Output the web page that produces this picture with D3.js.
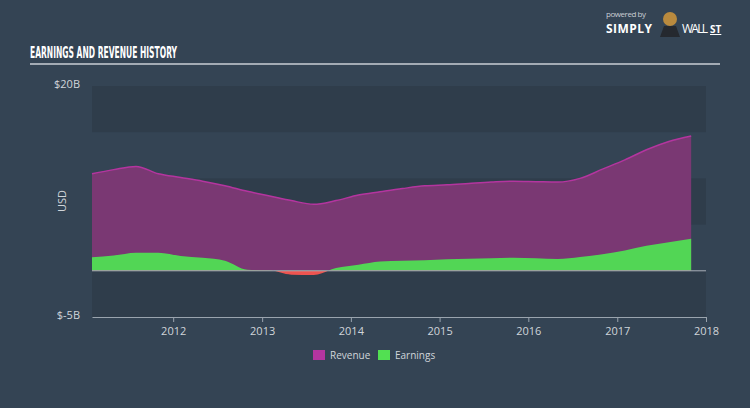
<!DOCTYPE html>
<html>
<head>
<meta charset="utf-8">
<script src="https://cdn.jsdelivr.net/npm/d3@7"></script>
<style>
  html, body { margin: 0; padding: 0; background: #344454; }
  svg { display: block; font-family: "Open Sans", "DejaVu Sans", sans-serif; }
</style>
</head>
<body>
<div id="chart"></div>
<script>
// quarterly points, values in billions USD
const dates = [
  "2011-02-01", "2011-05-01", "2011-08-01", "2011-11-01",
  "2012-02-01", "2012-05-01", "2012-08-01", "2012-11-01",
  "2013-02-01", "2013-05-01", "2013-08-01", "2013-11-01",
  "2014-02-01", "2014-05-01", "2014-08-01", "2014-11-01",
  "2015-02-01", "2015-05-01", "2015-08-01", "2015-11-01",
  "2016-02-01", "2016-05-01", "2016-08-01", "2016-11-01",
  "2017-02-01", "2017-05-01", "2017-08-01", "2017-11-01"
];
const revenue = [
  10.5, 10.95, 11.3, 10.5,
  10.1, 9.7, 9.2, 8.6,
  8.1, 7.6, 7.2, 7.6,
  8.2, 8.55, 8.9, 9.2,
  9.3, 9.45, 9.6, 9.7,
  9.65, 9.6, 10.0, 11.0,
  12.0, 13.1, 14.0, 14.6
];
const earnings = [
  1.46, 1.65, 1.96, 1.96,
  1.6, 1.4, 1.1, 0.12,
  0.05, -0.42, -0.45, 0.3,
  0.65, 1.0, 1.1, 1.15,
  1.25, 1.3, 1.35, 1.42,
  1.35, 1.28, 1.5, 1.8,
  2.2, 2.7, 3.1, 3.47
];
const yTicks = [20, -5];
const yBands = [[20, 15], [10, 5], [0, -5]];
const xTicks = ["2012", "2013", "2014", "2015", "2016", "2017", "2018"];

const width = 750, height = 408;
const plotLeft = 92, plotRight = 706, plotTop = 86, plotBottom = 317;

const parse = d3.timeParse("%Y-%m-%d");
const rows = dates.map((d, i) => ({ date: parse(d), rev: revenue[i], earn: earnings[i] }));

const x = d3.scaleTime()
  .domain([parse("2011-02-01"), parse("2018-01-01")])
  .range([plotLeft, plotRight]);
const y = d3.scaleLinear().domain([-5, 20]).range([plotBottom, plotTop]);

const svg = d3.select("#chart").append("svg")
  .attr("width", width)
  .attr("height", height);

// background
svg.append("rect").attr("width", width).attr("height", height).attr("fill", "#344454");

// title
svg.append("text")
  .attr("x", 30).attr("y", 58)
  .attr("fill", "#ffffff")
  .style("font-family", "'Liberation Sans Narrow', 'DejaVu Sans Condensed', sans-serif")
  .style("font-weight", "bold")
  .style("font-size", "15px")
  .attr("textLength", 147)
  .attr("lengthAdjust", "spacingAndGlyphs")
  .text("EARNINGS AND REVENUE HISTORY");
svg.append("line")
  .attr("x1", 30).attr("x2", 720).attr("y1", 64).attr("y2", 64)
  .attr("stroke", "#c9ced4").attr("stroke-width", 1.5);

// logo
svg.append("text").attr("x", 606).attr("y", 17)
  .attr("fill", "#c9ced4").style("font-size", "8px")
  .attr("textLength", 40).text("powered by");
svg.append("text").attr("x", 606).attr("y", 33)
  .attr("fill", "#ffffff").style("font-size", "12px").style("font-weight", "bold")
  .attr("textLength", 46).text("SIMPLY");
svg.append("path").attr("d", "M660,37 L664,26 L676,26 L680,37 Z").attr("fill", "#25292f");
svg.append("circle").attr("cx", 670).attr("cy", 19).attr("r", 7).attr("fill", "#b98a3e");
svg.append("text").attr("x", 682).attr("y", 33)
  .attr("fill", "#ffffff").style("font-size", "12px").attr("textLength", 26).text("WALL");
svg.append("text").attr("x", 710).attr("y", 33)
  .attr("fill", "#ffffff").style("font-size", "10px").style("font-weight", "bold")
  .style("text-decoration", "underline").text("ST");

// bands
svg.append("rect")
  .attr("x", plotLeft).attr("y", plotTop).attr("width", plotRight - plotLeft).attr("height", plotBottom - plotTop)
  .attr("fill", "#344454");
svg.selectAll(".band").data(yBands).join("rect")
  .attr("class", "band")
  .attr("x", plotLeft).attr("width", plotRight - plotLeft)
  .attr("y", d => y(d[0])).attr("height", d => y(d[1]) - y(d[0]))
  .attr("fill", "#2f3d4b");

// revenue
const curve = d3.curveMonotoneX;
svg.append("path").datum(rows)
  .attr("fill", "#7a3873")
  .attr("d", d3.area().curve(curve).x(d => x(d.date)).y0(y(0)).y1(d => y(d.rev)));
svg.append("path").datum(rows)
  .attr("fill", "none").attr("stroke", "#b4359f").attr("stroke-width", 1.5)
  .attr("d", d3.line().curve(curve).x(d => x(d.date)).y(d => y(d.rev)));

// earnings, split at zero
const defs = svg.append("defs");
defs.append("clipPath").attr("id", "above")
  .append("rect").attr("x", 0).attr("y", 0).attr("width", width).attr("height", y(0));
defs.append("clipPath").attr("id", "below")
  .append("rect").attr("x", 0).attr("y", y(0)).attr("width", width).attr("height", height);
const earnArea = d3.area().curve(curve).x(d => x(d.date)).y0(y(0)).y1(d => y(d.earn));
svg.append("path").datum(rows)
  .attr("clip-path", "url(#above)")
  .attr("fill", "#52d655")
  .attr("d", earnArea);
svg.append("path").datum(rows)
  .attr("clip-path", "url(#below)")
  .attr("fill", "#ee5450")
  .attr("d", earnArea);

// zero line
svg.append("line")
  .attr("x1", plotLeft).attr("x2", plotRight).attr("y1", y(0)).attr("y2", y(0))
  .attr("stroke", "#a8b0b8").attr("stroke-width", 1);

// x axis
const xAxis = svg.append("g")
  .attr("transform", `translate(0,${plotBottom})`)
  .call(d3.axisBottom(x)
    .tickValues(xTicks.map(t => parse(t + "-01-01")))
    .tickFormat(d3.timeFormat("%Y"))
    .tickSize(5)
    .tickSizeOuter(0));
xAxis.select(".domain").attr("stroke", "#9aa4ae");
xAxis.selectAll(".tick line").attr("stroke", "#9aa4ae");
xAxis.selectAll(".tick text")
  .attr("fill", "#d0d5da")
  .style("font-size", "11px")
  .style("font-family", "'Open Sans', sans-serif")
  .attr("dy", "0.9em");

// y labels
svg.selectAll(".ylab").data(yTicks).join("text")
  .attr("class", "ylab")
  .attr("x", 80).attr("y", d => y(d) + 2)
  .attr("text-anchor", "end")
  .attr("fill", "#d0d5da")
  .style("font-size", "11px")
  .text(d => d < 0 ? "$-" + Math.abs(d) + "B" : "$" + d + "B");
svg.append("text")
  .attr("transform", "translate(66,201) rotate(-90)")
  .attr("text-anchor", "middle")
  .attr("fill", "#d0d5da")
  .style("font-size", "11px")
  .text("USD");

// legend
const legend = [["Revenue", "#b4359f", 313], ["Earnings", "#52e052", 378]];
legend.forEach(([name, color, lx]) => {
  svg.append("rect").attr("x", lx).attr("y", 350).attr("width", 12).attr("height", 10).attr("fill", color);
  svg.append("text").attr("x", lx + 17).attr("y", 359)
    .attr("fill", "#d0d5da").style("font-size", "10px").text(name);
});
</script>
</body>
</html>
